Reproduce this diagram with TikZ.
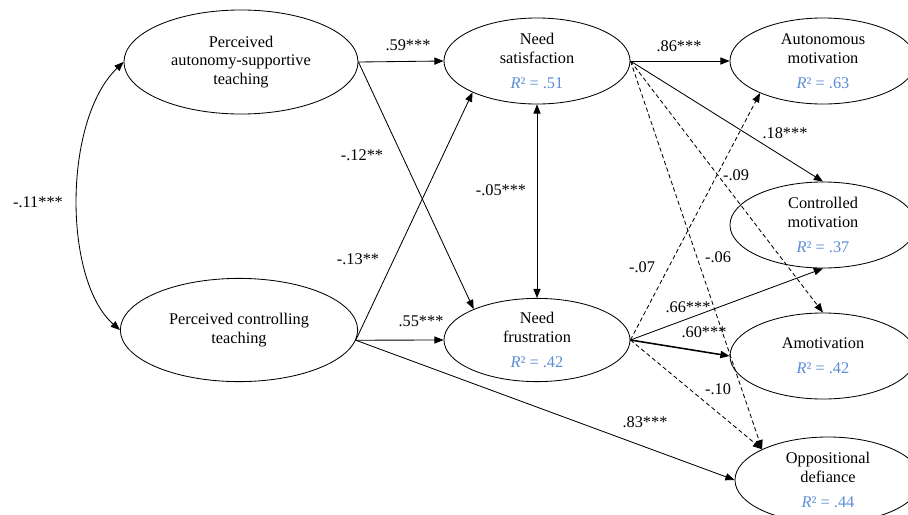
\documentclass[tikz,border=0pt]{standalone}
\usepackage{fontspec}
\setmainfont{Liberation Serif}
\definecolor{RSquareBlue}{HTML}{5B8DD6}
\usepackage{tikz}
\usetikzlibrary{positioning, arrows.meta, shapes.geometric}
\usepackage{xcolor}

\tikzset{
  construct/.style={draw, ellipse, line width=0.6pt, inner sep=0pt, align=center,
                    minimum width=4.65cm, minimum height=2.15cm},
  effect/.style={line width=0.6pt, -{Triangle[length=2.3mm, width=1.8mm]}},
  weakeffect/.style={effect, dash pattern=on 3pt off 2pt},
  covar/.style={line width=0.6pt, {Triangle[length=2.3mm, width=1.8mm]}-{Triangle[length=2.3mm, width=1.8mm]}},
  coef/.style={inner sep=1pt}
}
\newcommand{\rsq}[1]{\\[4.5pt]{\color{RSquareBlue}\textit{R}² = #1}}

\begin{document}
\begin{tikzpicture}[x=0.025cm, y=-0.025cm, font=\fontsize{11.6}{13.3}\selectfont]
  \useasboundingbox (0,0) rectangle (908,514);

  % predictors
  \node[construct, minimum width=5.85cm, minimum height=2.6cm] (AS) at (241,62)
       {Perceived\\autonomy-supportive\\teaching};
  \node[construct, minimum width=5.93cm, minimum height=2.58cm] (CT) at (239,330)
       {Perceived controlling\\teaching};

  % mediators
  \node[construct] (NS) at (537,61) {Need\\satisfaction\rsq{.51}};
  \node[construct, minimum height=2.08cm] (NF) at (537,340) {Need\\frustration\rsq{.42}};

  % outcomes
  \node[construct] (AM) at (823,61) {Autonomous\\motivation\rsq{.63}};
  \node[construct] (CM) at (823,225) {Controlled\\motivation\rsq{.37}};
  \node[construct] (AMO) at (823,356) {Amotivation\rsq{.42}};
  \node[construct] (OD) at (828,480) {Oppositional\\defiance\rsq{.44}};

  % paths
  \draw[covar] (AS.west) .. controls (63,120) and (63,280) .. (CT.west);
  \draw[effect] (AS.east) -- (NS.west);
  \draw[effect] (AS.east) -- (NF.154);
  \draw[effect] (CT.-5) -- (NS.206);
  \draw[effect] (CT.-5) -- (NF.west);
  \draw[effect] (CT.-5) -- (OD.west);
  \draw[covar] (NS.south) -- (NF.north);
  \draw[effect] (NS.east) -- (AM.west);
  \draw[effect] (NS.east) -- (CM.north);
  \draw[weakeffect] (NS.east) -- (AMO.north);
  \draw[weakeffect] (NS.east) -- (OD.155);
  \draw[weakeffect] (NF.east) -- (AM.207);
  \draw[effect] (NF.east) -- (CM.south);
  \draw[effect, line width=1.1pt] (NF.east) -- (AMO.west);
  \draw[weakeffect] (NF.east) -- (OD.155);

  % coefficients
  \node[coef] (c11) at (38,202) {-.11***};
  \node[coef] (c59) at (408,45) {.59***};
  \node[coef] (c12) at (362,155) {-.12**};
  \node[coef] (c13) at (358,259) {-.13**};
  \node[coef] (c55) at (421,321) {.55***};
  \node[coef] (c83) at (645,422) {.83***};
  \node[coef] (c05) at (501,190) {-.05***};
  \node[coef] (c86) at (679,46) {.86***};
  \node[coef] (c18) at (785,133) {.18***};
  \node[coef] (c09) at (736,175) {-.09};
  \node[coef] (c06) at (718,257) {-.06};
  \node[coef] (c07) at (642,267) {-.07};
  \node[coef] (c66) at (688,307) {.66***};
  \node[coef] (c60) at (704,332) {.60***};
  \node[coef] (c10) at (718,389) {-.10};
\end{tikzpicture}
\end{document}
